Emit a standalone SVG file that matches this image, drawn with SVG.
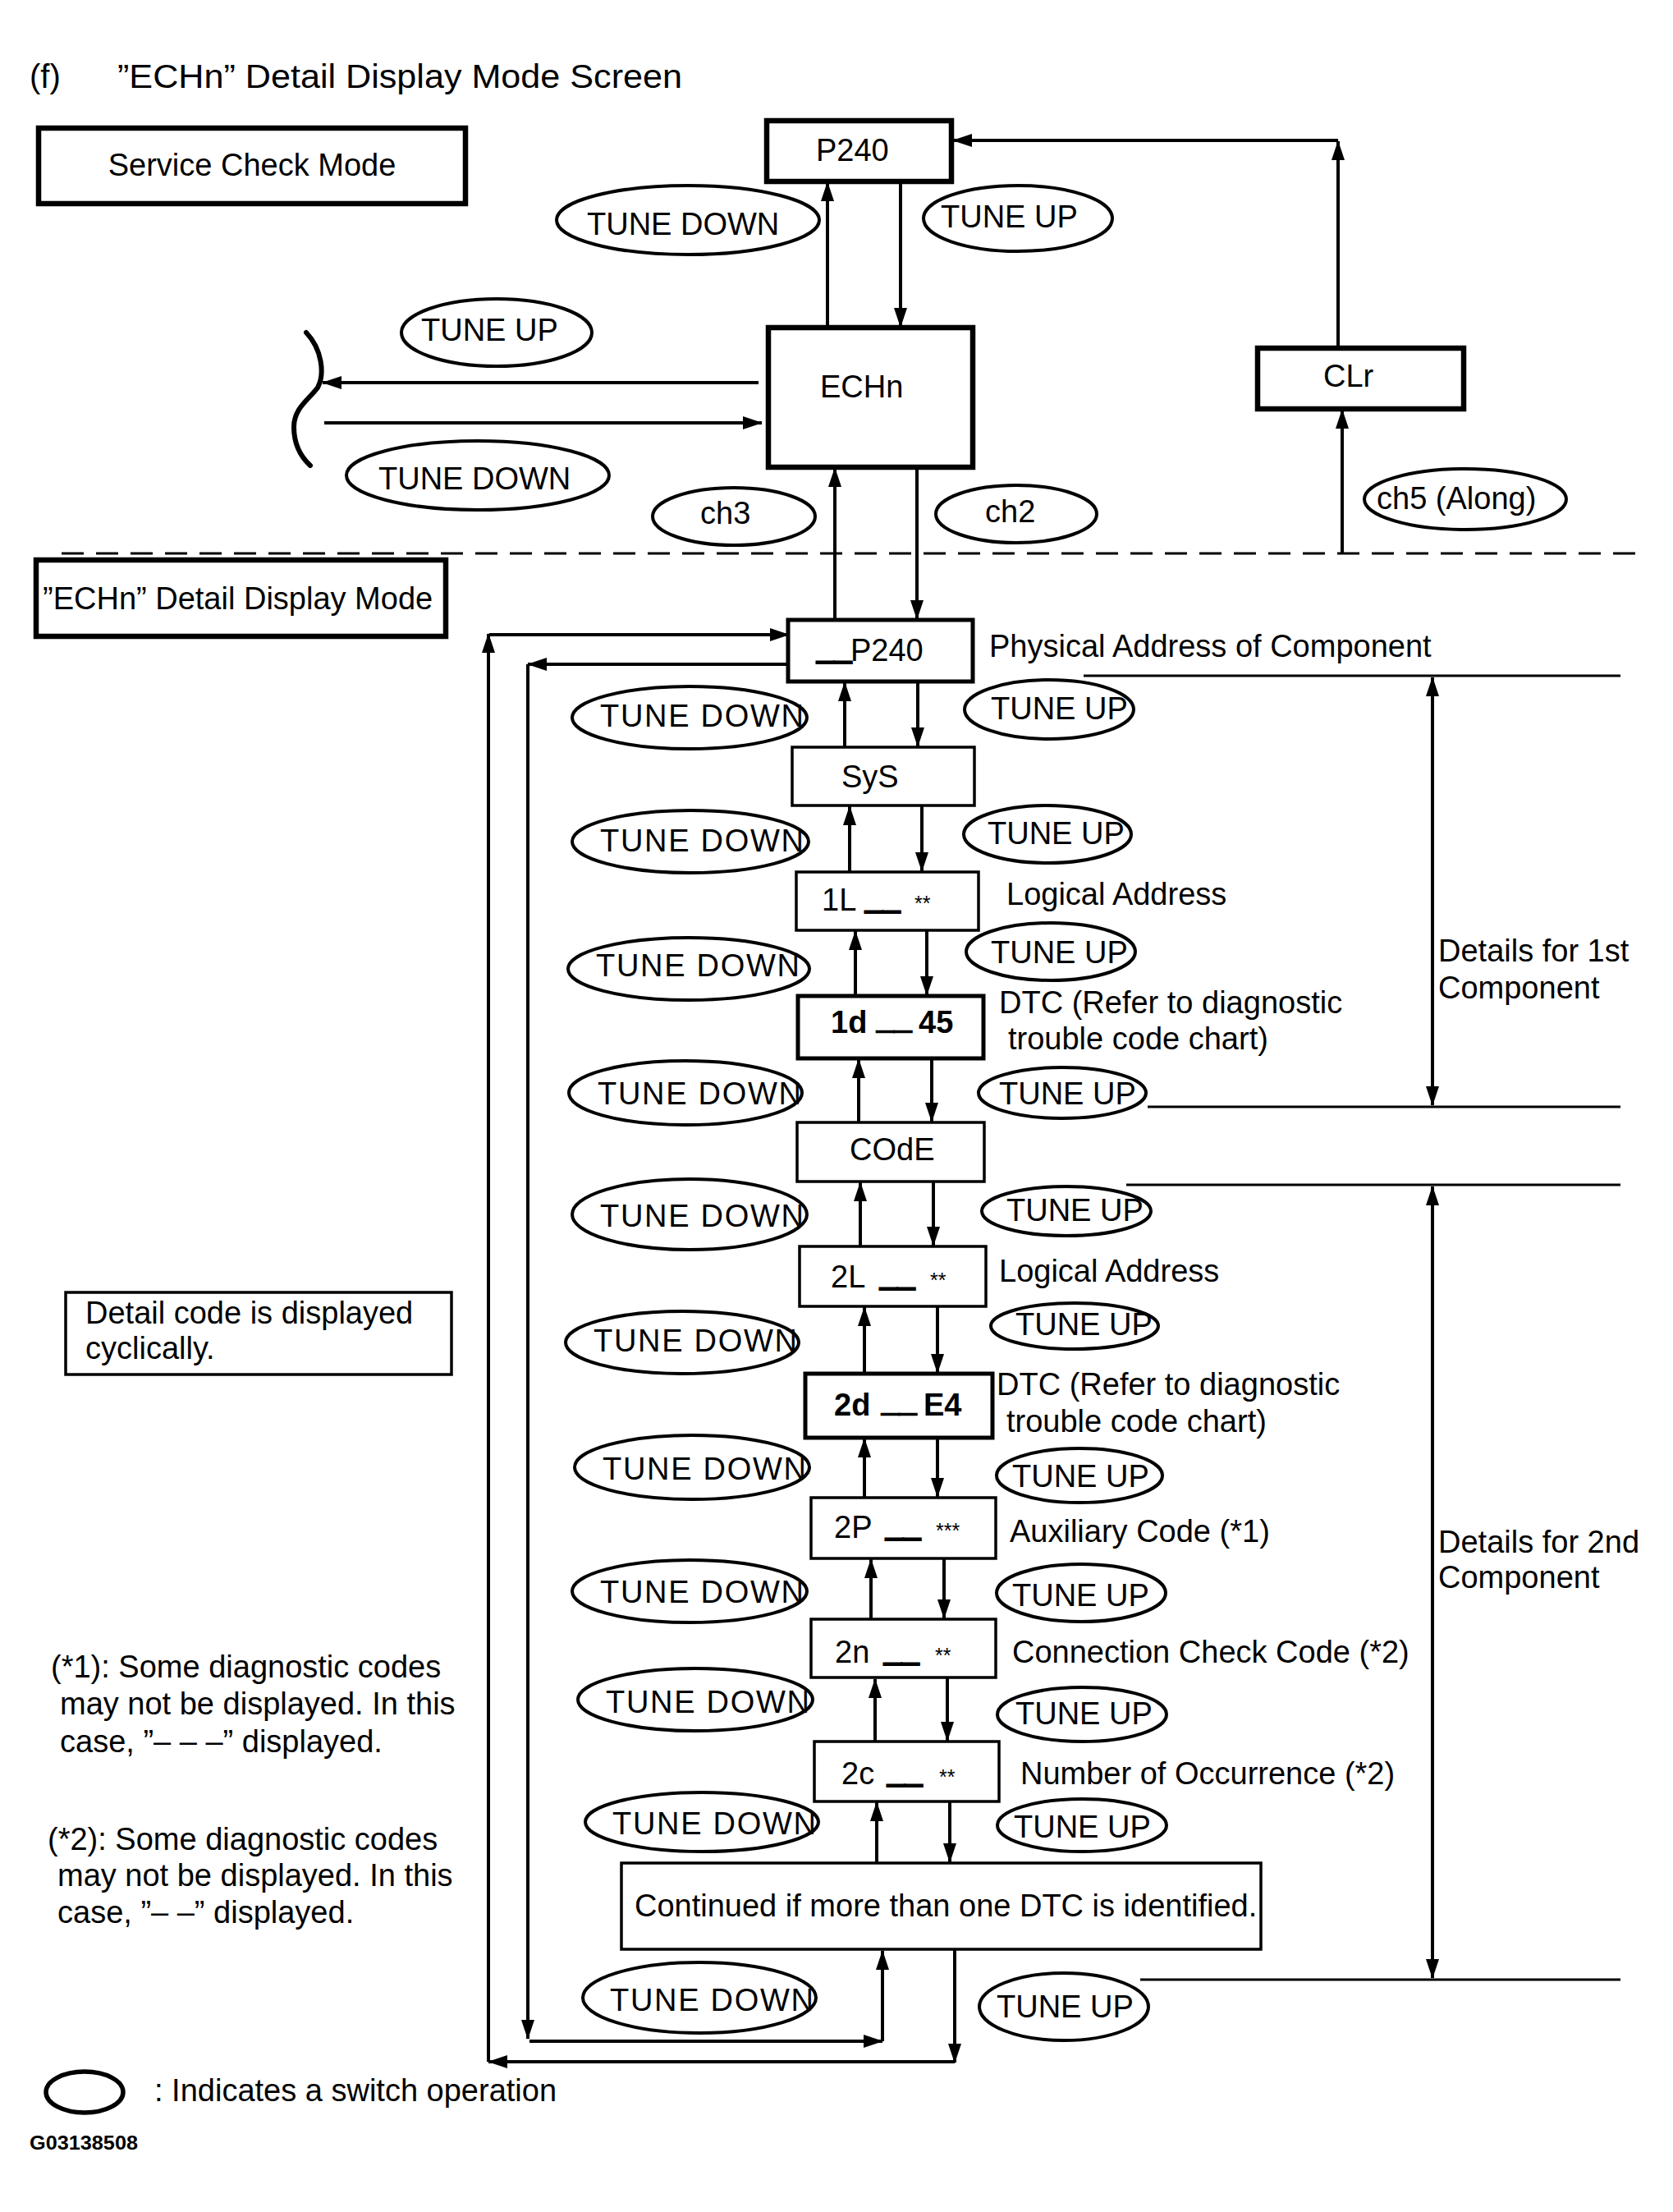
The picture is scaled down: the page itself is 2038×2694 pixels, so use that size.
<svg xmlns="http://www.w3.org/2000/svg" width="2038" height="2694" viewBox="0 0 2038 2694">
<style>
.t{font-family:"Liberation Sans",Arial,Helvetica,sans-serif;font-size:38px;fill:#000}
.b{font-weight:bold}
.sm{font-size:25px}
.us{stroke:#000;stroke-width:2}
.ttl{font-size:40px}
.code{font-size:24px;font-weight:bold}
.box{fill:#fff;stroke:#000;stroke-width:3.5}
.thick{fill:#fff;stroke:#000;stroke-width:6.5}
.mid{fill:#fff;stroke:#000;stroke-width:5}
.op{fill:none;stroke:#000;stroke-width:4}
.ln{fill:none;stroke:#000;stroke-width:4}
.thin{fill:none;stroke:#000;stroke-width:3}
.arr{marker-end:url(#ah)}
.dbl{marker-start:url(#ah);marker-end:url(#ah)}
</style>
<defs>
<marker id="ah" viewBox="0 0 24 16" refX="23" refY="8" markerWidth="24" markerHeight="16" markerUnits="userSpaceOnUse" orient="auto-start-reverse"><path d="M0,0 L24,8 L0,16 Z" fill="#000"/></marker>
</defs>
<rect width="2038" height="2694" fill="#fff"/>

<g id="title">
<text class="t ttl" x="36" y="107">(f)</text>
<text class="t ttl" x="143" y="107" textLength="688" lengthAdjust="spacingAndGlyphs">”ECHn” Detail Display Mode Screen</text>
</g>

<g id="connectors">
<line class="thin" x1="75" y1="674" x2="1994" y2="674" stroke-dasharray="27 15"/>
<path class="ln arr" d="M1008,399 V222"/>
<path class="ln arr" d="M1097,221 V398"/>
<path class="ln arr" d="M1630,424 V172"/>
<path class="ln arr" d="M1630,171 H1161"/>
<path class="ln arr" d="M1635,674 V499"/>
<path class="ln arr" d="M924,466 H393"/>
<path class="ln arr" d="M395,515 H928"/>
<path d="M373,405 C392,425 396,455 387,472 C376,487 358,497 358,520 C358,540 365,555 378,567" fill="none" stroke="#000" stroke-width="6" stroke-linecap="round"/>
<path class="ln arr" d="M1017,755 V570"/>
<path class="ln arr" d="M1117,569 V754"/>
<path class="ln arr" d="M1163,2375 V2512"/>
<path class="ln arr" d="M1163,2511 H595"/>
<path class="ln arr" d="M595,2511 V772"/>
<path class="ln arr" d="M596,773 H961"/>
<path class="ln arr" d="M960,809 H643"/>
<path class="ln arr" d="M643,809 V2483"/>
<path class="ln arr" d="M645,2486 H1075"/>
<path class="ln arr" d="M1075,2486 V2376"/>
<path class="ln arr" d="M1029,910 V831"/>
<path class="ln arr" d="M1118,830 V909"/>
<path class="ln arr" d="M1035,1062 V982"/>
<path class="ln arr" d="M1123,981 V1061"/>
<path class="ln arr" d="M1042,1213 V1134"/>
<path class="ln arr" d="M1129,1133 V1212"/>
<path class="ln arr" d="M1046,1367 V1290"/>
<path class="ln arr" d="M1135,1289 V1366"/>
<path class="ln arr" d="M1048,1518 V1440"/>
<path class="ln arr" d="M1137,1439 V1517"/>
<path class="ln arr" d="M1053,1673 V1592"/>
<path class="ln arr" d="M1142,1591 V1672"/>
<path class="ln arr" d="M1053,1824 V1752"/>
<path class="ln arr" d="M1142,1751 V1823"/>
<path class="ln arr" d="M1061,1972 V1899"/>
<path class="ln arr" d="M1150,1898 V1971"/>
<path class="ln arr" d="M1066,2121 V2045"/>
<path class="ln arr" d="M1154,2044 V2120"/>
<path class="ln arr" d="M1068,2269 V2195"/>
<path class="ln arr" d="M1157,2194 V2268"/>
<line class="thin" x1="1320" y1="823" x2="1974" y2="823"/>
<line class="thin" x1="1398" y1="1348" x2="1974" y2="1348"/>
<path class="ln dbl" d="M1745,825 V1346"/>
<line class="thin" x1="1372" y1="1443" x2="1974" y2="1443"/>
<line class="thin" x1="1389" y1="2411" x2="1974" y2="2411"/>
<path class="ln dbl" d="M1745,1445 V2409"/>
</g>

<g id="service-check-mode"><rect class="thick" x="47" y="156" width="520" height="92"/><text class="t" x="307" y="214" text-anchor="middle">Service Check Mode</text></g>
<g id="p240"><rect class="thick" x="934" y="147" width="225" height="74"/><text class="t" x="994" y="196">P240</text></g>
<g id="echn"><rect class="thick" x="936" y="399" width="249" height="170"/><text class="t" x="999" y="484">ECHn</text></g>
<g id="clr"><rect class="thick" x="1532" y="424" width="251" height="74"/><text class="t" x="1612" y="471">CLr</text></g>
<g id="echn-detail-mode"><rect class="thick" x="44" y="682" width="499" height="93"/><text class="t" x="52" y="742">”ECHn” Detail Display Mode</text></g>

<g id="op-top-tune-down"><ellipse class="op" cx="838" cy="268" rx="160" ry="42"/><text class="t" x="715" y="286">TUNE DOWN</text></g>
<g id="op-top-tune-up"><ellipse class="op" cx="1240" cy="266" rx="115" ry="40"/><text class="t" x="1146" y="277">TUNE UP</text></g>
<g id="op-left-tune-up"><ellipse class="op" cx="605" cy="405" rx="116" ry="41"/><text class="t" x="513" y="415">TUNE UP</text></g>
<g id="op-left-tune-down"><ellipse class="op" cx="582" cy="579" rx="160" ry="42"/><text class="t" x="461" y="596">TUNE DOWN</text></g>
<g id="op-ch3"><ellipse class="op" cx="894" cy="629" rx="99" ry="35"/><text class="t" x="853" y="638">ch3</text></g>
<g id="op-ch2"><ellipse class="op" cx="1238" cy="626" rx="98" ry="35"/><text class="t" x="1200" y="636">ch2</text></g>
<g id="op-ch5"><ellipse class="op" cx="1785" cy="608" rx="123" ry="37"/><text class="t" x="1677" y="620">ch5 (Along)</text></g>

<g id="n-p240"><rect class="mid" x="960" y="755" width="225" height="75"/><text class="t" y="805"><tspan x="995" dy="-5" class="us">__</tspan><tspan x="1036" dy="5">P240</tspan></text><text class="t" x="1205" y="800">Physical Address of Component</text></g>
<g id="n-sys"><rect class="box" x="965" y="910" width="222" height="71"/><text class="t" x="1025" y="959">SyS</text></g>
<g id="n-1l"><rect class="box" x="970" y="1062" width="222" height="71"/><text class="t" y="1109"><tspan x="1001">1L </tspan><tspan x="1054" dy="-5" class="us">__ </tspan><tspan x="1114" dy="5" class="sm">**</tspan></text><text class="t" x="1226" y="1102">Logical Address</text></g>
<g id="n-1d"><rect class="mid" x="972" y="1213" width="226" height="76"/><text class="t b" y="1258"><tspan x="1012">1d </tspan><tspan x="1068" dy="-5" class="us">__ </tspan><tspan x="1119" dy="5">45</tspan></text><text class="t" x="1217" y="1234">DTC (Refer to diagnostic</text><text class="t" x="1228" y="1278">trouble code chart)</text></g>
<g id="n-code"><rect class="box" x="971" y="1367" width="228" height="72"/><text class="t" x="1035" y="1413">COdE</text></g>
<g id="n-2l"><rect class="box" x="974" y="1518" width="227" height="73"/><text class="t" y="1568"><tspan x="1012">2L </tspan><tspan x="1072" dy="-5" class="us">__ </tspan><tspan x="1133" dy="5" class="sm">**</tspan></text><text class="t" x="1217" y="1561">Logical Address</text></g>
<g id="n-2d"><rect class="mid" x="981" y="1673" width="228" height="78"/><text class="t b" y="1724"><tspan x="1016">2d </tspan><tspan x="1074" dy="-5" class="us">__ </tspan><tspan x="1125" dy="5">E4</tspan></text><text class="t" x="1214" y="1699">DTC (Refer to diagnostic</text><text class="t" x="1226" y="1744">trouble code chart)</text></g>
<g id="n-2p"><rect class="box" x="988" y="1824" width="225" height="74"/><text class="t" y="1873"><tspan x="1016">2P </tspan><tspan x="1079" dy="-5" class="us">__ </tspan><tspan x="1140" dy="5" class="sm">***</tspan></text><text class="t" x="1230" y="1878">Auxiliary Code (*1)</text></g>
<g id="n-2n"><rect class="box" x="988" y="1972" width="225" height="71"/><text class="t" y="2025"><tspan x="1017">2n </tspan><tspan x="1077" dy="-5" class="us">__ </tspan><tspan x="1139" dy="5" class="sm">**</tspan></text><text class="t" x="1233" y="2025">Connection Check Code (*2)</text></g>
<g id="n-2c"><rect class="box" x="992" y="2121" width="225" height="73"/><text class="t" y="2173"><tspan x="1025">2c </tspan><tspan x="1081" dy="-5" class="us">__ </tspan><tspan x="1144" dy="5" class="sm">**</tspan></text><text class="t" x="1243" y="2173">Number of Occurrence (*2)</text></g>
<g id="n-continued"><rect class="box" x="757" y="2269" width="779" height="105"/><text class="t" x="773" y="2334">Continued if more than one DTC is identified.</text></g>

<g id="op-tu1"><ellipse class="op" cx="1278" cy="864" rx="103" ry="36"/><text class="t" x="1207" y="876">TUNE UP</text></g>
<g id="op-tu2"><ellipse class="op" cx="1276" cy="1016" rx="102" ry="35"/><text class="t" x="1203" y="1028">TUNE UP</text></g>
<g id="op-tu3"><ellipse class="op" cx="1280" cy="1159" rx="103" ry="35"/><text class="t" x="1207" y="1173">TUNE UP</text></g>
<g id="op-tu4"><ellipse class="op" cx="1294" cy="1331" rx="102" ry="31"/><text class="t" x="1217" y="1345">TUNE UP</text></g>
<g id="op-tu5"><ellipse class="op" cx="1299" cy="1475" rx="103" ry="30"/><text class="t" x="1226" y="1487">TUNE UP</text></g>
<g id="op-tu6"><ellipse class="op" cx="1309" cy="1615" rx="102" ry="28"/><text class="t" x="1237" y="1626">TUNE UP</text></g>
<g id="op-tu7"><ellipse class="op" cx="1315" cy="1797" rx="101" ry="33"/><text class="t" x="1233" y="1811">TUNE UP</text></g>
<g id="op-tu8"><ellipse class="op" cx="1317" cy="1940" rx="103" ry="35"/><text class="t" x="1233" y="1956">TUNE UP</text></g>
<g id="op-tu9"><ellipse class="op" cx="1318" cy="2088" rx="103" ry="33"/><text class="t" x="1237" y="2100">TUNE UP</text></g>
<g id="op-tu10"><ellipse class="op" cx="1318" cy="2223" rx="103" ry="32"/><text class="t" x="1235" y="2238">TUNE UP</text></g>
<g id="op-tu11"><ellipse class="op" cx="1296" cy="2444" rx="103" ry="41"/><text class="t" x="1214" y="2457">TUNE UP</text></g>

<g id="op-td1"><ellipse class="op" cx="840" cy="874" rx="143" ry="38"/><text class="t" x="731" y="885" textLength="248">TUNE DOWN</text></g>
<g id="op-td2"><ellipse class="op" cx="841" cy="1025" rx="144" ry="38"/><text class="t" x="731" y="1037" textLength="248">TUNE DOWN</text></g>
<g id="op-td3"><ellipse class="op" cx="839" cy="1180" rx="147" ry="38"/><text class="t" x="726" y="1189" textLength="248">TUNE DOWN</text></g>
<g id="op-td4"><ellipse class="op" cx="835" cy="1331" rx="142" ry="39"/><text class="t" x="728" y="1345" textLength="248">TUNE DOWN</text></g>
<g id="op-td5"><ellipse class="op" cx="840" cy="1479" rx="143" ry="43"/><text class="t" x="731" y="1494" textLength="248">TUNE DOWN</text></g>
<g id="op-td6"><ellipse class="op" cx="831" cy="1635" rx="142" ry="38"/><text class="t" x="723" y="1646" textLength="248">TUNE DOWN</text></g>
<g id="op-td7"><ellipse class="op" cx="843" cy="1787" rx="143" ry="39"/><text class="t" x="734" y="1802" textLength="248">TUNE DOWN</text></g>
<g id="op-td8"><ellipse class="op" cx="840" cy="1938" rx="143" ry="38"/><text class="t" x="731" y="1952" textLength="248">TUNE DOWN</text></g>
<g id="op-td9"><ellipse class="op" cx="847" cy="2070" rx="143" ry="38"/><text class="t" x="738" y="2086" textLength="248">TUNE DOWN</text></g>
<g id="op-td10"><ellipse class="op" cx="855" cy="2219" rx="142" ry="36"/><text class="t" x="746" y="2234" textLength="248">TUNE DOWN</text></g>
<g id="op-td11"><ellipse class="op" cx="852" cy="2433" rx="142" ry="43"/><text class="t" x="743" y="2449" textLength="248">TUNE DOWN</text></g>

<g id="details-1"><text class="t" x="1752" y="1171">Details for 1st</text><text class="t" x="1752" y="1216">Component</text></g>
<g id="details-2"><text class="t" x="1752" y="1891">Details for 2nd</text><text class="t" x="1752" y="1934">Component</text></g>

<g id="note-cyclic"><rect class="box" x="80" y="1574" width="470" height="100"/><text class="t" x="104" y="1612">Detail code is displayed</text><text class="t" x="104" y="1655">cyclically.</text></g>
<g id="note-1"><text class="t" x="62" y="2043">(*1): Some diagnostic codes</text><text class="t" x="73" y="2088">may not be displayed. In this</text><text class="t" x="73" y="2134">case, ”– – –” displayed.</text></g>
<g id="note-2"><text class="t" x="58" y="2253">(*2): Some diagnostic codes</text><text class="t" x="70" y="2297">may not be displayed. In this</text><text class="t" x="70" y="2342">case, ”– –” displayed.</text></g>
<g id="legend"><ellipse cx="103" cy="2548" rx="47" ry="25" fill="none" stroke="#000" stroke-width="5.5"/><text class="t" x="188" y="2559">: Indicates a switch operation</text></g>
<text class="t code" x="36" y="2618" textLength="132" lengthAdjust="spacingAndGlyphs">G03138508</text>
</svg>
